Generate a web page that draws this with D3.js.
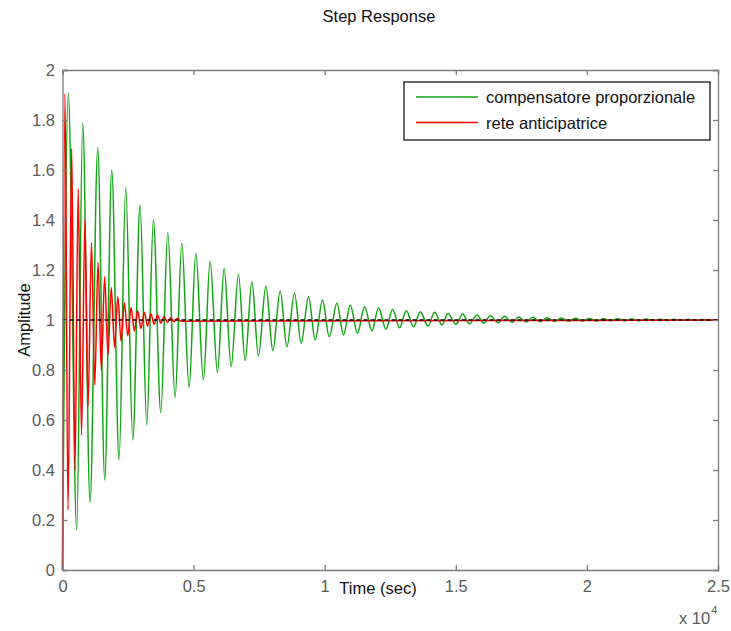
<!DOCTYPE html>
<html>
<head>
<meta charset="utf-8">
<script src="https://cdn.jsdelivr.net/npm/d3@7"></script>
<style>
    body { margin: 0; background: #fff; }
    svg text { font-family: 'Liberation Sans', Arial, sans-serif; }
</style>
</head>
<body>
<svg id="chart" width="731" height="631"></svg>
<script>
// values (time in sec, amplitude)
const xTicks = [0, 5000, 10000, 15000, 20000, 25000]
const xTickLabels = ['0', '0.5', '1', '1.5', '2', '2.5']
const yTicks = [0, 0.2, 0.4, 0.6, 0.8, 1, 1.2, 1.4, 1.6, 1.8, 2]
const yTickLabels = ['0', '0.2', '0.4', '0.6', '0.8', '1', '1.2', '1.4', '1.6', '1.8', '2']
const seriesNames = ['compensatore proporzionale', 'rete anticipatrice']

const greenPeakT = [221, 771, 1344, 1878, 2412, 2958, 3466, 4015, 4550, 5084, 5630, 6164, 6710, 7222, 7756, 8302,
    8848, 9382, 9917, 10466, 10974, 11520, 12054, 12588, 13111, 13646, 14192, 14703, 15260, 15810, 16318, 16864,
    17398, 17932, 18482, 19028, 19562, 20097, 20631, 21184, 21719, 22272, 22806, 23341, 23875, 24410]
const greenPeakY = [1.907, 1.79, 1.69, 1.60, 1.53, 1.46, 1.40, 1.35, 1.307, 1.267, 1.236, 1.207, 1.183, 1.153, 1.136, 1.116,
    1.107, 1.093, 1.08, 1.067, 1.06, 1.053, 1.049, 1.043, 1.037, 1.033, 1.031, 1.026, 1.024, 1.02, 1.017, 1.015,
    1.012, 1.011, 1.009, 1.008, 1.007, 1.006, 1.005, 1.005, 1.004, 1.004, 1.003, 1.003, 1.003, 1.002]
const greenTroughT = [542, 1050, 1611, 2157, 2680, 3214, 3748, 4294, 4828, 5374, 5909, 6432, 6966, 7474, 8023, 8558,
    9103, 9638, 10172, 10718, 11252, 11802, 12337, 12856, 13390, 13940, 14474, 15008, 15516, 16062, 16612, 17146,
    17680, 18215, 18760, 19295, 19829, 20364, 20898, 21452, 21986, 22539, 23074, 23608, 24142, 24677]
const greenTroughY = [0.16, 0.27, 0.36, 0.44, 0.52, 0.58, 0.63, 0.69, 0.73, 0.76, 0.79, 0.813, 0.837, 0.856, 0.877, 0.893,
    0.907, 0.92, 0.933, 0.94, 0.947, 0.957, 0.963, 0.969, 0.973, 0.976, 0.98, 0.983, 0.985, 0.987, 0.989, 0.99,
    0.992, 0.993, 0.994, 0.995, 0.996, 0.996, 0.997, 0.997, 0.997, 0.998, 0.998, 0.998, 0.998, 0.999]

const redPeakT = [95, 350, 600, 855, 1105, 1355, 1605, 1860, 2110, 2360, 2615, 2865, 3120, 3370, 3625, 3875, 4130, 4380]
const redPeakY = [1.907, 1.687, 1.525, 1.40, 1.31, 1.23, 1.173, 1.13, 1.093, 1.069, 1.05, 1.037, 1.031, 1.025, 1.02, 1.014, 1.01, 1.007]
const redTroughT = [210, 475, 725, 975, 1230, 1480, 1735, 1985, 2235, 2490, 2740, 2990, 3245, 3495, 3750, 4000, 4255, 4505]
const redTroughY = [0.24, 0.40, 0.54, 0.655, 0.74, 0.80, 0.86, 0.89, 0.915, 0.937, 0.955, 0.966, 0.976, 0.983, 0.987, 0.99, 0.993, 0.995]

const startPoint = [0, 0]
const endT = 25000
const finalValue = 1

const GREEN = '#0ea60e'
const RED = '#ff0000'
const AXIS = '#7d7d7d'
const LABEL = '#5a5a5a'
const FONT = '16.5px'

// merge peaks and troughs into one time-ordered series
const buildSeries = (pt, py, tt, ty) => {
    let pts = pt.map((t, i) => [t, py[i]]).concat(tt.map((t, i) => [t, ty[i]]))
    pts.sort((a, b) => a[0] - b[0])
    return [startPoint].concat(pts, [[endT, finalValue]])
}

const createChart = () => {
    let margin = { top: 70, right: 13, bottom: 61, left: 62.5 }
    let svg = d3.select('#chart')
    let w = +svg.attr('width'), h = +svg.attr('height')

    let x = d3.scaleLinear().domain([0, 25000]).range([margin.left, w - margin.right])
    let y = d3.scaleLinear().domain([0, 2]).range([h - margin.bottom, margin.top])

    let green = buildSeries(greenPeakT, greenPeakY, greenTroughT, greenTroughY)
    let red = buildSeries(redPeakT, redPeakY, redTroughT, redTroughY)

    let line = d3.line()
        .x(d => x(d[0]))
        .y(d => y(d[1]))
        .curve(d3.curveMonotoneX)

    svg.append('path')
        .datum(green)
        .attr('d', line)
        .style('fill', 'none')
        .style('stroke', GREEN)
        .style('stroke-width', 1.5)

    svg.append('path')
        .datum(red)
        .attr('d', line)
        .style('fill', 'none')
        .style('stroke', RED)
        .style('stroke-width', 1.5)

    // steady state line
    svg.append('line')
        .attr('x1', x(0)).attr('x2', x(25000))
        .attr('y1', y(finalValue)).attr('y2', y(finalValue))
        .style('stroke', '#000')
        .style('stroke-width', 1.5)
        .style('stroke-dasharray', '4,3')

    // axes: ticks inside on all four sides
    let tickLen = 5
    let bottom = d3.axisBottom(x).tickValues(xTicks).tickFormat((d, i) => xTickLabels[i]).tickSize(-tickLen).tickPadding(10)
    let top = d3.axisTop(x).tickValues(xTicks).tickFormat('').tickSize(-tickLen)
    let left = d3.axisLeft(y).tickValues(yTicks).tickFormat((d, i) => yTickLabels[i]).tickSize(-tickLen).tickPadding(7.5)
    let right = d3.axisRight(y).tickValues(yTicks).tickFormat('').tickSize(-tickLen)

    svg.append('g').attr('transform', `translate(0,${y(0)})`).call(bottom)
    svg.append('g').attr('transform', `translate(0,${y(2)})`).call(top)
    svg.append('g').attr('transform', `translate(${x(0)},0)`).call(left)
    svg.append('g').attr('transform', `translate(${x(25000)},0)`).call(right)

    svg.selectAll('.domain, .tick line').style('stroke', AXIS).style('stroke-width', 1.3)
    svg.selectAll('.tick text')
        .style('fill', LABEL)
        .style('font-size', FONT)
        .style('font-family', "'Liberation Sans', Arial, sans-serif")

    // titles
    svg.append('text')
        .attr('x', 379).attr('y', 22)
        .attr('text-anchor', 'middle')
        .style('font-size', FONT)
        .style('fill', '#111')
        .text('Step Response')

    svg.append('text')
        .attr('x', 378).attr('y', 594)
        .attr('text-anchor', 'middle')
        .style('font-size', FONT)
        .style('fill', '#111')
        .text('Time (sec)')

    svg.append('text')
        .attr('transform', 'translate(30,320) rotate(-90)')
        .attr('text-anchor', 'middle')
        .style('font-size', FONT)
        .style('fill', '#111')
        .text('Amplitude')

    svg.append('text')
        .attr('x', 679).attr('y', 624)
        .style('font-size', FONT)
        .style('fill', LABEL)
        .html('x 10<tspan dx="1" dy="-10" style="font-size: 11px">4</tspan>')

    // legend
    let lg = svg.append('g').attr('transform', 'translate(404,82)')
    lg.append('rect')
        .attr('width', 306).attr('height', 58)
        .style('fill', '#fff')
        .style('stroke', '#000')
        .style('stroke-width', 1.2)

    let items = lg.selectAll('g.item')
        .data(seriesNames)
        .enter().append('g')
        .attr('class', 'item')
        .attr('transform', (d, i) => `translate(0,${15 + i * 25.5})`)

    items.append('line')
        .attr('x1', 12).attr('x2', 74)
        .style('stroke', (d, i) => [GREEN, RED][i])
        .style('stroke-width', 1.3)

    items.append('text')
        .attr('x', 82).attr('y', 6)
        .style('font-size', FONT)
        .style('fill', '#111')
        .text(d => d)
}

createChart()
</script>
</body>
</html>
